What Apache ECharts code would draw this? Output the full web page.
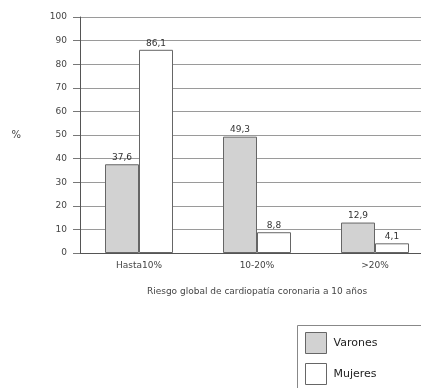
<!DOCTYPE html>
<html><head><meta charset="utf-8">
<script src="https://cdn.jsdelivr.net/npm/echarts@6/dist/echarts.min.js"></script>
<style>html,body{margin:0;padding:0;background:#fff;overflow:hidden;width:421px;height:388px}#c{width:434px;height:388px}</style>
</head><body><div id="c"></div>
<script>
const categories = ['Hasta10%', '10-20%', '>20%'];
const varones = [37.6, 49.3, 12.9];
const mujeres = [86.1, 8.8, 4.1];
const yTicks = [0, 10, 20, 30, 40, 50, 60, 70, 80, 90, 100];

const FONT = 'DejaVu Sans';
const fmt = p => String(p.value).replace('.', ',');
const chart = echarts.init(document.getElementById('c'));
chart.setOption({
  animation: false,
  backgroundColor: '#fff',
  textStyle: { fontFamily: FONT },
  grid: { left: 80, right: 0, top: 17, bottom: 135, containLabel: false },
  graphic: [{
    type: 'rect', left: 297, top: 325, silent: true,
    shape: { width: 140, height: 70 },
    style: { fill: '#fff', stroke: '#888', lineWidth: 1 }, z: 0
  }],
  legend: {
    orient: 'vertical', left: 305, top: 332, height: 60,
    padding: 0,
    itemWidth: 21, itemHeight: 21, itemGap: 9,
    icon: 'rect',
    itemStyle: { borderColor: '#666', borderWidth: 1 },
    textStyle: { fontFamily: FONT, fontSize: 11, color: '#222', padding: [0, 0, 0, 2] },
    data: ['Varones', 'Mujeres'], z: 10
  },
  xAxis: {
    type: 'category', data: categories,
    name: 'Riesgo global de cardiopatía coronaria a 10 años',
    nameLocation: 'middle', nameGap: 34,
    nameTextStyle: { fontFamily: FONT, fontSize: 9, color: '#444' },
    axisLine: { lineStyle: { color: '#555', width: 1 } },
    axisTick: { show: false },
    axisLabel: { fontFamily: FONT, fontSize: 9, color: '#444', margin: 8 }
  },
  yAxis: {
    type: 'value', min: yTicks[0], max: yTicks[yTicks.length - 1], interval: 10,
    name: '%', nameLocation: 'middle', nameGap: 59, nameRotate: 0,
    nameTextStyle: { fontFamily: FONT, fontSize: 10, color: '#444' },
    axisLine: { show: true, lineStyle: { color: '#555', width: 1 } },
    axisTick: { show: true, length: 7, lineStyle: { color: '#777' } },
    axisLabel: { fontFamily: FONT, fontSize: 9, color: '#444', margin: 13 },
    splitLine: { lineStyle: { color: '#9a9a9a', width: 1 } }
  },
  series: [
    {
      name: 'Varones', type: 'bar', data: varones, barWidth: 34, barGap: '0%',
      itemStyle: { color: '#d2d2d2', borderColor: '#666', borderWidth: 1 },
      label: { show: true, position: 'top', distance: 2, formatter: fmt, fontFamily: FONT, fontSize: 9, color: '#333' }
    },
    {
      name: 'Mujeres', type: 'bar', data: mujeres, barWidth: 34,
      itemStyle: { color: '#ffffff', borderColor: '#666', borderWidth: 1 },
      label: { show: true, position: 'top', distance: 2, formatter: fmt, fontFamily: FONT, fontSize: 9, color: '#333' }
    }
  ]
});
</script></body></html>
